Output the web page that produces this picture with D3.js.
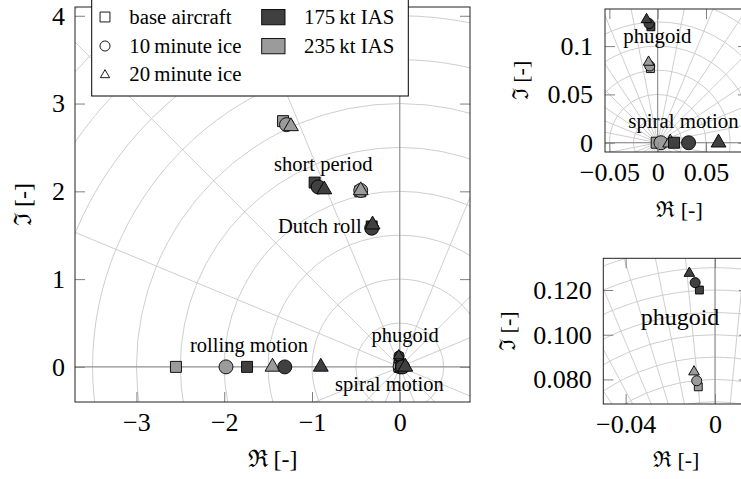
<!DOCTYPE html>
<html>
<head>
<meta charset="utf-8">
<script src="https://cdn.jsdelivr.net/npm/d3@7"></script>
<style>
  body { margin: 0; background: #fff; }
  svg, svg text { font-family: "Liberation Serif", "Tinos", "Times New Roman", "Nimbus Roman", "DejaVu Serif", serif; }
  svg { display: block; }
</style>
</head>
<body>
<svg id="chart" width="741" height="479"></svg>
<script>
// legend entries: configuration -> marker shape, speed -> fill
const configs = ["base aircraft", "10\u2009minute ice", "20\u2009minute ice"];
const speeds = ["175\u2009kt IAS", "235\u2009kt IAS"];

// eigenvalues [re, im], one per configuration (base, 10 min ice, 20 min ice)
const shortPeriod175 = [[-0.97, 2.10], [-0.93, 2.05], [-0.86, 2.02]];
const shortPeriod235 = [[-1.33, 2.80], [-1.29, 2.76], [-1.24, 2.74]];
const dutchRoll175 = [[-0.32, 1.60], [-0.32, 1.58], [-0.31, 1.62]];
const dutchRoll235 = [[-0.45, 2.00], [-0.445, 2.01], [-0.445, 2.01]];
const phugoid175 = [[-0.0070, 0.1200], [-0.0089, 0.1233], [-0.0115, 0.1275]];
const phugoid235 = [[-0.0075, 0.0767], [-0.0082, 0.0794], [-0.0094, 0.0834]];
// real roots
const rolling175 = [-1.74, -1.31, -0.90];
const rolling235 = [-2.55, -1.98, -1.45];
const spiral175 = [0.017, 0.032, 0.063];
const spiral235 = [-0.001, 0.0034, 0.013];

// tick values of the three panels
const mainXTicks = [-3, -2, -1, 0];
const mainYTicks = [0, 1, 2, 3, 4];
const zoomXTicks = [-0.05, 0, 0.05];
const zoomYTicks = [0, 0.05, 0.1];
const phugXTicks = [-0.04, 0];
const phugYTicks = [0.08, 0.1, 0.12];

const speedFill = ["#404040", "#9b9b9b"];
const shapes = ["square", "circle", "triangle"];

// modes, with a complex pair or a real root per speed
const modes = [
  { name: "short period", vals: [shortPeriod175, shortPeriod235] },
  { name: "Dutch roll", vals: [dutchRoll175, dutchRoll235] },
  { name: "phugoid", vals: [phugoid175, phugoid235], small: true },
  { name: "rolling motion", vals: [rolling175.map(r => [r, 0]), rolling235.map(r => [r, 0])] },
  { name: "spiral motion", vals: [spiral175.map(r => [r, 0]), spiral235.map(r => [r, 0])] }
];

const svg = d3.select("#chart");
const tickFont = 26;
const serif = "'Liberation Serif', 'Tinos', 'Times New Roman', 'Nimbus Roman', 'DejaVu Serif', serif";

function markPath(shape, s) {
  if (shape === "square") {
    const h = 5.5 * s;
    return `M${-h},${-h}H${h}V${h}H${-h}Z`;
  }
  if (shape === "circle") {
    const r = 7 * s;
    return `M${r},0A${r},${r} 0 1,1 ${-r},0A${r},${r} 0 1,1 ${r},0Z`;
  }
  const R = 8.6 * s;
  const w = R * Math.sin(Math.PI / 3);
  return `M0,${-R}L${w},${R / 2}L${-w},${R / 2}Z`;
}

function drawPanel(p) {
  const x = d3.scaleLinear().domain(p.xDomain).range([p.left, p.left + p.size]);
  const y = d3.scaleLinear().domain(p.yDomain).range([p.top + p.size, p.top]);
  const k = x(1) - x(0);
  const ox = x(0), oy = y(0);

  svg.append("clipPath").attr("id", "clip-" + p.id)
    .append("rect")
    .attr("x", p.left).attr("y", p.top)
    .attr("width", p.size).attr("height", p.size);

  const g = svg.append("g").attr("clip-path", `url(#clip-${p.id})`);

  // polar grid around the origin
  const rMax = d3.max([[p.xDomain[0], p.yDomain[0]], [p.xDomain[0], p.yDomain[1]],
    [p.xDomain[1], p.yDomain[0]], [p.xDomain[1], p.yDomain[1]]], c => Math.hypot(c[0], c[1]));
  g.selectAll(".ring")
    .data(d3.range(p.rStep, rMax + p.rStep, p.rStep))
    .enter()
    .append("circle")
    .attr("cx", ox).attr("cy", oy)
    .attr("r", d => d * k)
    .attr("fill", "none")
    .attr("stroke", "#c8c8c8")
    .attr("stroke-width", 0.9);

  g.selectAll(".spoke")
    .data(d3.range(0, 360, p.angStep))
    .enter()
    .append("line")
    .attr("x1", ox).attr("y1", oy)
    .attr("x2", d => ox + 3000 * Math.cos(d * Math.PI / 180))
    .attr("y2", d => oy - 3000 * Math.sin(d * Math.PI / 180))
    .attr("stroke", "#c8c8c8")
    .attr("stroke-width", 0.9);

  // real and imaginary axes
  g.append("line")
    .attr("x1", ox).attr("x2", ox).attr("y1", p.top).attr("y2", p.top + p.size)
    .attr("stroke", "#8a8a8a").attr("stroke-width", 1);
  g.append("line")
    .attr("x1", p.left).attr("x2", p.left + p.size).attr("y1", oy).attr("y2", oy)
    .attr("stroke", "#8a8a8a").attr("stroke-width", 1);

  // ticks on all four sides, labels left and bottom
  const axes = [
    svg.append("g").attr("transform", `translate(0,${p.top + p.size})`)
      .call(d3.axisBottom(x).tickValues(p.xTicks).tickFormat(p.xFormat).tickSize(-10).tickPadding(p.xPad)),
    svg.append("g").attr("transform", `translate(0,${p.top})`)
      .call(d3.axisTop(x).tickValues(p.xTicks).tickFormat("").tickSize(-10)),
    svg.append("g").attr("transform", `translate(${p.left},0)`)
      .call(d3.axisLeft(y).tickValues(p.yTicks).tickFormat(p.yFormat).tickSize(-10).tickPadding(p.yPad)),
    svg.append("g").attr("transform", `translate(${p.left + p.size},0)`)
      .call(d3.axisRight(y).tickValues(p.yTicks).tickFormat("").tickSize(-10))
  ];
  axes.forEach(a => {
    a.attr("font-family", serif).attr("font-size", tickFont);
    a.select(".domain").remove();
    a.selectAll("line").attr("stroke", "#808080");
    a.selectAll("text").attr("fill", "#000");
  });

  // mode names
  g.selectAll(".mode-label")
    .data(p.labels)
    .enter()
    .append("text")
    .attr("x", d => d.x).attr("y", d => d.y)
    .attr("font-family", serif)
    .attr("font-size", p.labelFont)
    .text(d => d.text);

  // markers: 235 kt first, then 175 kt; square, circle, triangle
  [1, 0].forEach(si => {
    configs.forEach((c, ci) => {
      modes.forEach(m => {
        const v = m.vals[si][ci];
        g.append("path")
          .attr("d", markPath(shapes[ci], m.small ? 0.72 : 1))
          .attr("transform", `translate(${x(v[0])},${y(v[1])})`)
          .attr("fill", speedFill[si])
          .attr("stroke", "#000")
          .attr("stroke-width", 0.9);
      });
    });
  });

  // frame
  svg.append("rect")
    .attr("x", p.left).attr("y", p.top)
    .attr("width", p.size).attr("height", p.size)
    .attr("fill", "none").attr("stroke", "#222").attr("stroke-width", 1);

  // axis titles
  svg.append("text")
    .attr("x", p.left + p.size / 2 + p.xTitleShift).attr("y", p.xTitleY)
    .attr("text-anchor", "middle")
    .attr("font-family", serif)
    .attr("font-size", p.titleFont)
    .text("\u211C [-]");
  svg.append("text")
    .attr("transform", `translate(${p.yTitleX},${p.top + p.size / 2}) rotate(-90)`)
    .attr("text-anchor", "middle")
    .attr("font-family", serif)
    .attr("font-size", p.titleFont)
    .text("\u2111 [-]");
}

const decimal = d => d === 0 ? "0" : d3.format(".2~f")(d);

drawPanel({
  id: "main", left: 75, top: 7, size: 395,
  xDomain: [-3.7, 0.8], yDomain: [-0.4, 4.1],
  rStep: 0.5, angStep: 22.5,
  xTicks: mainXTicks, yTicks: mainYTicks,
  xFormat: d3.format("d"), yFormat: d3.format("d"),
  xPad: 10.5, yPad: 10,
  labelFont: 20.5, titleFont: 24,
  xTitleShift: 0, xTitleY: 467, yTitleX: 31,
  labels: [
    { text: "short period", x: 274, y: 171 },
    { text: "Dutch roll", x: 278, y: 233 },
    { text: "rolling motion", x: 190, y: 352 },
    { text: "phugoid", x: 371.5, y: 341.5 },
    { text: "spiral motion", x: 335, y: 390.5 }
  ]
});

drawPanel({
  id: "zoom", left: 605, top: 9, size: 143,
  xDomain: [-0.0545, 0.0935], yDomain: [-0.0096, 0.1384],
  rStep: 0.025, angStep: 11.25,
  xTicks: zoomXTicks, yTicks: zoomYTicks,
  xFormat: decimal, yFormat: decimal,
  xPad: 11, yPad: 12,
  labelFont: 20.8, titleFont: 22,
  xTitleShift: 3, xTitleY: 217, yTitleX: 528,
  labels: [
    { text: "phugoid", x: 623.3, y: 43.3 },
    { text: "spiral motion", x: 628.3, y: 128.3 }
  ]
});

drawPanel({
  id: "phug", left: 603.3, top: 258.3, size: 145.7,
  xDomain: [-0.05, 0.0152], yDomain: [0.069, 0.1342],
  rStep: 0.01, angStep: 5.625,
  xTicks: phugXTicks, yTicks: phugYTicks,
  xFormat: decimal, yFormat: d3.format(".3f"),
  xPad: 10.5, yPad: 11.6,
  labelFont: 24, titleFont: 22,
  xTitleShift: 0, xTitleY: 467, yTitleX: 515,
  labels: [
    { text: "phugoid", x: 640.7, y: 325 }
  ]
});

// legend, partly above the top of the picture
const legendFont = 20.8;
const legend = svg.append("g").attr("font-family", serif);
legend.append("rect")
  .attr("x", 91.7).attr("y", -3)
  .attr("width", 316.6).attr("height", 99)
  .attr("fill", "#fff").attr("stroke", "#000").attr("stroke-width", 1);

const rowY = [17, 46, 74];
const legendScale = [0.9, 0.72, 0.62];
configs.forEach((c, i) => {
  legend.append("path")
    .attr("d", markPath(shapes[i], legendScale[i]))
    .attr("transform", `translate(105,${rowY[i] + (shapes[i] === "triangle" ? 1 : 0)})`)
    .attr("fill", "#fff").attr("stroke", "#000").attr("stroke-width", 0.9);
  legend.append("text")
    .attr("x", 129.3).attr("y", rowY[i] + 6.5)
    .attr("font-size", legendFont)
    .text(c);
});
speeds.forEach((s, i) => {
  legend.append("rect")
    .attr("x", 261.7).attr("y", rowY[i] - 7.5)
    .attr("width", 23.3).attr("height", 15.3)
    .attr("fill", speedFill[i]).attr("stroke", "#000").attr("stroke-width", 0.9);
  legend.append("text")
    .attr("x", 304).attr("y", rowY[i] + 6.5)
    .attr("font-size", legendFont)
    .text(s);
});
</script>
</body>
</html>
